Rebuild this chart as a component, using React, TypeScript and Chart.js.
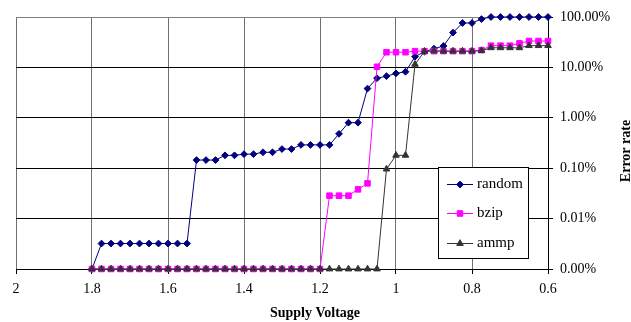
import React, { useEffect, useRef } from 'react';
import { Chart, registerables } from 'chart.js';

Chart.register(...registerables);

const voltages = [
  1.8, 1.775, 1.75, 1.725, 1.7, 1.675, 1.65, 1.625, 1.6, 1.575,
  1.55, 1.525, 1.5, 1.475, 1.45, 1.425, 1.4, 1.375, 1.35, 1.325,
  1.3, 1.275, 1.25, 1.225, 1.2, 1.175, 1.15, 1.125, 1.1, 1.075,
  1.05, 1.025, 1.0, 0.975, 0.95, 0.925, 0.9, 0.875, 0.85, 0.825,
  0.8, 0.775, 0.75, 0.725, 0.7, 0.675, 0.65, 0.625, 0.6,
];

const randomRate = [
  0.00001, 0.000032, 0.000032, 0.000032, 0.000032, 0.000032, 0.000032, 0.000032, 0.000032, 0.000032,
  0.000032, 0.00145, 0.00145, 0.00145, 0.0018, 0.0018, 0.0019, 0.0019, 0.00207, 0.00207,
  0.0024, 0.0024, 0.0029, 0.0029, 0.0029, 0.0029, 0.0048, 0.008, 0.008, 0.038,
  0.061, 0.067, 0.076, 0.082, 0.163, 0.205, 0.235, 0.266, 0.49, 0.76,
  0.76, 0.91, 1, 1, 1, 1, 1, 1, 1,
];

const bzipRate = [
  0.00001, 0.00001, 0.00001, 0.00001, 0.00001, 0.00001, 0.00001, 0.00001, 0.00001, 0.00001,
  0.00001, 0.00001, 0.00001, 0.00001, 0.00001, 0.00001, 0.00001, 0.00001, 0.00001, 0.00001,
  0.00001, 0.00001, 0.00001, 0.00001, 0.00001, 0.000285, 0.000285, 0.000285, 0.00038, 0.0005,
  0.103, 0.2, 0.2, 0.2, 0.21, 0.21, 0.21, 0.21, 0.21, 0.21,
  0.21, 0.22, 0.27, 0.27, 0.27, 0.3, 0.334, 0.334, 0.334,
];

const ammpRate = [
  0.00001, 0.00001, 0.00001, 0.00001, 0.00001, 0.00001, 0.00001, 0.00001, 0.00001, 0.00001,
  0.00001, 0.00001, 0.00001, 0.00001, 0.00001, 0.00001, 0.00001, 0.00001, 0.00001, 0.00001,
  0.00001, 0.00001, 0.00001, 0.00001, 0.00001, 0.00001, 0.00001, 0.00001, 0.00001, 0.00001,
  0.00001, 0.00096, 0.0018, 0.0018, 0.115, 0.208, 0.212, 0.21, 0.21, 0.21,
  0.21, 0.215, 0.245, 0.245, 0.245, 0.245, 0.27, 0.27, 0.27,
];

const seriesNames = ['random', 'bzip', 'ammp'];
const xTicks = [2, 1.8, 1.6, 1.4, 1.2, 1, 0.8, 0.6];
const yTicks = [0.00001, 0.0001, 0.001, 0.01, 0.1, 1];
const xTitle = 'Supply Voltage';
const yTitle = 'Error rate';

const FONT = '"Liberation Serif", "Times New Roman", serif';

const seriesStyles = [
  { color: '#000080', point: 'rectRot', radius: 3.4 },
  { color: '#FF00FF', point: 'rect', radius: 3.9 },
  { color: '#333333', point: 'triangle', radius: 3.8 },
];

function drawMarker(ctx: CanvasRenderingContext2D, style: string, x: number, y: number, r: number, color: string) {
  ctx.save();
  ctx.fillStyle = color;
  ctx.strokeStyle = color;
  ctx.lineWidth = 1;
  ctx.beginPath();
  if (style === 'rectRot') {
    ctx.moveTo(x - r, y);
    ctx.lineTo(x, y - r);
    ctx.lineTo(x + r, y);
    ctx.lineTo(x, y + r);
    ctx.closePath();
  } else if (style === 'rect') {
    const s = r * Math.SQRT1_2;
    ctx.rect(x - s, y - s, 2 * s, 2 * s);
  } else {
    const h = Math.sin(Math.PI / 3) * r;
    ctx.moveTo(x, y - r);
    ctx.lineTo(x + h, y + r / 2);
    ctx.lineTo(x - h, y + r / 2);
    ctx.closePath();
  }
  ctx.fill();
  ctx.stroke();
  ctx.restore();
}

const decorPlugin = {
  id: 'decor',
  afterDraw(chart: any) {
    const ctx: CanvasRenderingContext2D = chart.ctx;
    ctx.save();
    // legend box
    const lx = 438, ly = 167, lw = 90, lh = 91;
    ctx.fillStyle = '#ffffff';
    ctx.fillRect(lx, ly, lw, lh);
    ctx.strokeStyle = '#000000';
    ctx.lineWidth = 1;
    ctx.strokeRect(lx + 0.5, ly + 0.5, lw, lh);
    ctx.font = `15px ${FONT}`;
    ctx.textAlign = 'left';
    ctx.textBaseline = 'middle';
    seriesNames.forEach((name, i) => {
      const st = seriesStyles[i];
      const y = 184 + i * 29.4;
      ctx.strokeStyle = st.color;
      ctx.lineWidth = 1;
      ctx.beginPath();
      ctx.moveTo(447, Math.round(y) + 0.5);
      ctx.lineTo(473, Math.round(y) + 0.5);
      ctx.stroke();
      drawMarker(ctx, st.point, 460, Math.round(y) + 0.5, st.radius, st.color);
      ctx.fillStyle = '#000000';
      ctx.fillText(name, 477, y);
    });
    // axis titles
    ctx.fillStyle = '#000000';
    ctx.font = `bold 14px ${FONT}`;
    ctx.textAlign = 'center';
    ctx.textBaseline = 'alphabetic';
    ctx.fillText(xTitle, 315, 317);
    ctx.translate(630, 151);
    ctx.rotate(-Math.PI / 2);
    ctx.fillText(yTitle, 0, 0);
    ctx.restore();
  },
};

export default function App() {
  const ref = useRef<HTMLCanvasElement | null>(null);
  useEffect(() => {
    document.body.style.margin = '0';
    const canvas = ref.current;
    if (!canvas) return;
    const rates = [randomRate, bzipRate, ammpRate];
    const datasets = seriesNames.map((name, i) => ({
      label: name,
      data: voltages.map((v, j) => ({ x: v, y: rates[i][j] })),
      borderColor: seriesStyles[i].color,
      backgroundColor: seriesStyles[i].color,
      pointBackgroundColor: seriesStyles[i].color,
      pointBorderColor: seriesStyles[i].color,
      pointBorderWidth: 1,
      pointStyle: seriesStyles[i].point,
      pointRadius: seriesStyles[i].radius,
      borderWidth: 1,
      tension: 0,
      clip: false,
      order: 2 - i,
    }));
    const chart = new Chart(canvas, {
      type: 'line',
      data: { datasets },
      plugins: [decorPlugin],
      options: {
        animation: false,
        responsive: false,
        devicePixelRatio: 1,
        layout: { padding: { left: 16, top: 17, right: 0, bottom: 0 } },
        plugins: { legend: { display: false }, tooltip: { enabled: false } },
        scales: {
          x: {
            type: 'linear',
            reverse: true,
            min: 0.6,
            max: 2,
            position: 'bottom',
            afterBuildTicks: (s: any) => {
              s.ticks = xTicks.map((v) => ({ value: v }));
            },
            afterFit: (s: any) => {
              s.height = 53;
            },
            ticks: {
              callback: (v: any) => String(v),
              color: '#000',
              font: { family: FONT, size: 14 },
              padding: 7,
              maxRotation: 0,
              autoSkip: false,
            },
            grid: {
              color: (c: any) => (c.tick && c.tick.value === 0.6 ? '#000000' : '#707070'),
              tickColor: '#000000',
              tickLength: 5,
              lineWidth: 1,
            },
            border: { color: '#000000', width: 1 },
          },
          y: {
            type: 'logarithmic',
            position: 'right',
            min: 0.00001,
            max: 1,
            afterBuildTicks: (s: any) => {
              s.ticks = yTicks.map((v) => ({ value: v }));
            },
            afterFit: (s: any) => {
              s.width = 83;
            },
            ticks: {
              callback: (v: any) => (Number(v) * 100).toFixed(2) + '%',
              color: '#000',
              font: { family: FONT, size: 14 },
              padding: 7,
              autoSkip: false,
            },
            grid: {
              color: (c: any) => (c.tick && c.tick.value === 1 ? '#808080' : '#000000'),
              tickColor: '#000000',
              tickLength: 5,
              lineWidth: 1,
            },
            border: { color: '#000000', width: 1 },
          },
        },
      } as any,
    });
    return () => chart.destroy();
  }, []);
  return (
    <div style={{ width: 631, height: 322 }}>
      <canvas ref={ref} width={631} height={322} style={{ display: 'block' }} />
    </div>
  );
}
